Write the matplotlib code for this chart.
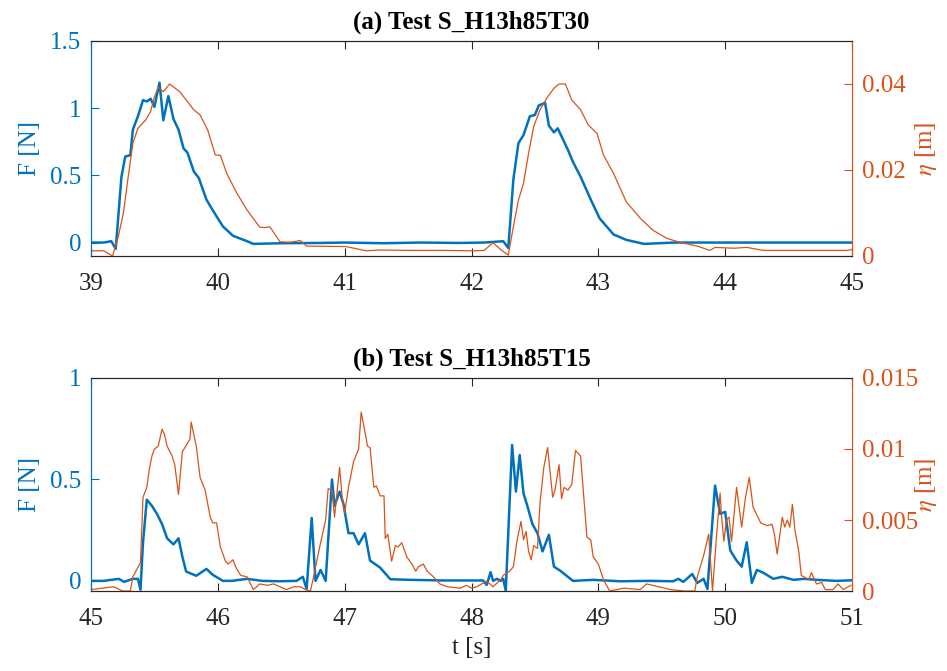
import matplotlib
matplotlib.use("Agg")
import matplotlib.pyplot as plt

plt.rcParams['font.family'] = ['Liberation Serif', 'DejaVu Serif']
plt.rcParams['mathtext.fontset'] = 'stix'
plt.rcParams['font.size'] = 18

BLUE = '#0072BD'
ORANGE = '#D95319'
GRAY = '#262626'

# ---- panel (a): force ----
ta_F = [39.0, 39.10, 39.16, 39.195, 39.24, 39.27, 39.31, 39.33, 39.37, 39.41,
        39.44, 39.47, 39.50, 39.54, 39.57, 39.61, 39.65, 39.69, 39.73, 39.76,
        39.81, 39.85, 39.91, 39.96, 40.04, 40.12, 40.23, 40.28, 40.5, 40.8,
        41.0, 41.3, 41.6, 41.9, 42.1, 42.25, 42.29, 42.33, 42.37, 42.41,
        42.46, 42.50, 42.53, 42.58, 42.61, 42.65, 42.68, 42.71, 42.76, 42.80,
        42.86, 42.94, 43.01, 43.12, 43.22, 43.36, 43.6, 43.9, 44.2, 44.5,
        44.8, 45.0]
F_a = [0.0, 0.0, 0.01, -0.047, 0.49, 0.64, 0.65, 0.84, 0.94, 1.06,
       1.05, 1.07, 1.01, 1.19, 0.91, 1.09, 0.92, 0.84, 0.70, 0.67,
       0.53, 0.48, 0.32, 0.24, 0.12, 0.05, 0.01, -0.01, -0.005, -0.003,
       0.0, -0.005, 0.0, -0.003, 0.0, 0.01, -0.04, 0.47, 0.74, 0.80,
       0.94, 0.95, 1.02, 1.04, 0.87, 0.82, 0.85, 0.79, 0.69, 0.60,
       0.49, 0.32, 0.18, 0.06, 0.02, -0.01, 0.0, 0.0, 0.0, 0.0,
       0.0, 0.0]

# ---- panel (a): surface elevation ----
ta_eta = [39.0, 39.10, 39.17, 39.215, 39.255, 39.29, 39.33, 39.37, 39.43, 39.47,
          39.50, 39.53, 39.57, 39.62, 39.70, 39.75, 39.81, 39.86, 39.92, 39.98,
          40.02, 40.07, 40.15, 40.23, 40.33, 40.37, 40.41, 40.49, 40.57, 40.65,
          40.70, 41.01, 41.17, 41.27, 41.54, 41.80, 42.02, 42.10, 42.17, 42.23,
          42.29, 42.33, 42.37, 42.41, 42.45, 42.49, 42.54, 42.60, 42.65, 42.69,
          42.74, 42.79, 42.86, 42.92, 42.99, 43.04, 43.12, 43.22, 43.33, 43.43,
          43.54, 43.64, 43.78, 43.88, 43.92, 44.07, 44.17, 44.30, 44.70, 44.96,
          45.0]
eta_a = [0.0012, 0.0012, 0.0, 0.0045, 0.0099, 0.0177, 0.0262, 0.0297, 0.0316, 0.0336,
         0.0370, 0.0392, 0.0382, 0.0400, 0.0382, 0.0363, 0.0340, 0.0328, 0.0293, 0.0235,
         0.0234, 0.0192, 0.0146, 0.0107, 0.0067, 0.0066, 0.0068, 0.0033, 0.0032, 0.0036,
         0.0023, 0.0022, 0.0012, 0.0014, 0.0013, 0.0013, 0.0012, 0.0013, 0.0031, 0.0015,
         0.0002, 0.0068, 0.0130, 0.0169, 0.0239, 0.0301, 0.0340, 0.0370, 0.0390, 0.0400,
         0.0400, 0.0363, 0.0340, 0.0305, 0.0285, 0.0235, 0.0192, 0.0126, 0.0088, 0.0060,
         0.0041, 0.0032, 0.0023, 0.0013, 0.0020, 0.0018, 0.0020, 0.0013, 0.0013, 0.0013,
         0.0015]

# ---- panel (b): force ----
tb_F = [45.0, 45.1, 45.22, 45.26, 45.33, 45.37, 45.39, 45.41, 45.44, 45.48,
        45.52, 45.56, 45.60, 45.65, 45.69, 45.72, 45.75, 45.83, 45.91, 45.96,
        46.04, 46.11, 46.23, 46.35, 46.49, 46.62, 46.67, 46.70, 46.74, 46.77,
        46.81, 46.85, 46.90, 46.92, 46.96, 46.99, 47.03, 47.07, 47.11, 47.16,
        47.20, 47.23, 47.28, 47.36, 47.52, 47.78, 48.09, 48.12, 48.15, 48.17,
        48.20, 48.23, 48.25, 48.27, 48.32, 48.35, 48.38, 48.41, 48.44, 48.48,
        48.52, 48.56, 48.61, 48.65, 48.70, 48.80, 48.96, 49.17, 49.40, 49.59,
        49.63, 49.67, 49.74, 49.78, 49.83, 49.86, 49.92, 49.96, 50.0, 50.04,
        50.09, 50.13, 50.17, 50.21, 50.25, 50.30, 50.38, 50.45, 50.54, 50.62,
        50.72, 50.88, 51.0]
F_b = [0.0, 0.0, 0.01, -0.005, 0.01, 0.01, -0.044, 0.19, 0.40, 0.37,
       0.33, 0.28, 0.21, 0.18, 0.21, 0.12, 0.046, 0.025, 0.059, 0.03,
       0.0, 0.0, 0.01, 0.0, -0.002, 0.0, 0.02, -0.04, 0.31, 0.0,
       0.054, 0.0, 0.50, 0.37, 0.44, 0.38, 0.235, 0.235, 0.18, 0.235,
       0.10, 0.087, 0.065, 0.008, 0.005, 0.002, 0.002, -0.02, 0.043, 0.0,
       0.01, 0.0, 0.01, -0.048, 0.67, 0.44, 0.62, 0.43, 0.37, 0.28,
       0.235, 0.145, 0.227, 0.07, 0.05, 0.0, 0.005, -0.002, 0.0, -0.002,
       0.01, -0.005, 0.034, -0.01, 0.01, -0.04, 0.47, 0.33, 0.34, 0.15,
       0.10, 0.07, 0.19, -0.01, 0.054, 0.04, 0.01, 0.02, 0.005, 0.01,
       0.005, 0.0, 0.003]

# ---- panel (b): surface elevation ----
tb_eta = [45.0, 45.18, 45.25, 45.31, 45.33, 45.36, 45.39, 45.41, 45.44, 45.46,
          45.48, 45.50, 45.53, 45.56, 45.58, 45.60, 45.64, 45.66, 45.69, 45.72,
          45.78, 45.79, 45.83, 45.86, 45.90, 45.94, 45.96, 45.99, 46.02, 46.06,
          46.08, 46.12, 46.14, 46.18, 46.23, 46.28, 46.33, 46.39, 46.44, 46.49,
          46.54, 46.60, 46.65, 46.69, 46.73, 46.75, 46.81, 46.85, 46.87, 46.90,
          46.92, 46.96, 46.98, 47.00, 47.03, 47.07, 47.11, 47.13, 47.16, 47.18,
          47.20, 47.23, 47.25, 47.28, 47.31, 47.32, 47.34, 47.37, 47.40, 47.42,
          47.45, 47.49, 47.53, 47.56, 47.58, 47.62, 47.65, 47.70, 47.75, 47.81,
          47.91, 47.96, 48.00, 48.04, 48.12, 48.17, 48.23, 48.25, 48.30, 48.33,
          48.36, 48.39, 48.41, 48.43, 48.45, 48.47, 48.49, 48.52, 48.54, 48.57,
          48.60, 48.64, 48.66, 48.69, 48.71, 48.73, 48.76, 48.79, 48.82, 48.86,
          48.88, 48.91, 48.94, 48.96, 49.00, 49.04, 49.09, 49.20, 49.33, 49.38,
          49.57, 49.68, 49.76, 49.78, 49.83, 49.87, 49.90, 49.93, 49.96, 49.97,
          49.99, 50.01, 50.03, 50.05, 50.09, 50.13, 50.16, 50.19, 50.22, 50.28,
          50.33, 50.37, 50.39, 50.41, 50.45, 50.47, 50.49, 50.51, 50.53, 50.55,
          50.58, 50.60, 50.66, 50.68, 50.72, 50.76, 50.79, 50.85, 50.89, 50.93,
          50.99]
eta_b = [0.0001, 0.0003, 0.0, 0.0, 0.0010, 0.0015, 0.0020, 0.0066, 0.0073, 0.0086,
         0.0095, 0.0100, 0.0102, 0.0114, 0.0110, 0.0102, 0.0095, 0.0089, 0.0068, 0.0098,
         0.0107, 0.0119, 0.0102, 0.0080, 0.0071, 0.0052, 0.0048, 0.0048, 0.0031, 0.0021,
         0.0019, 0.0022, 0.0017, 0.0011, 0.0010, 0.0001, 0.0005, 0.0004, 0.0005, 0.0003,
         0.0001, 0.0003, 0.0003, 0.0001, 0.0, 0.0008, 0.0034, 0.0050, 0.0072, 0.0071,
         0.0052, 0.0087, 0.0066, 0.0055, 0.0073, 0.0091, 0.0100, 0.0126, 0.0112, 0.0102,
         0.0101, 0.0073, 0.0074, 0.0067, 0.0067, 0.0037, 0.0040, 0.0021, 0.0032, 0.0031,
         0.0034, 0.0024, 0.0019, 0.0014, 0.0017, 0.0019, 0.0014, 0.0010, 0.0005, 0.0003,
         0.0002, 0.0004, 0.0002, 0.0003, 0.0007, 0.0003, 0.0008, 0.0011, 0.0014, 0.0017,
         0.0036, 0.0049, 0.0036, 0.0042, 0.0028, 0.0022, 0.0032, 0.0030, 0.0062, 0.0087,
         0.0101, 0.0066, 0.0072, 0.0089, 0.0065, 0.0073, 0.0071, 0.0075, 0.0099, 0.0095,
         0.0072, 0.0038, 0.0036, 0.0024, 0.0019, 0.0008, 0.0, 0.0002, 0.0001, 0.0005,
         0.0001, 0.0, 0.0, 0.0010, 0.0025, 0.0040, 0.0, 0.0037, 0.0069, 0.0054,
         0.0035, 0.0050, 0.0052, 0.0035, 0.0073, 0.0045, 0.0066, 0.0080, 0.0059, 0.0048,
         0.0046, 0.0047, 0.0039, 0.0026, 0.0052, 0.0045, 0.0050, 0.0045, 0.0061, 0.0043,
         0.0028, 0.0011, 0.0008, 0.0013, 0.0005, 0.0006, 0.0001, 0.0001, 0.0005, 0.0001,
         0.0004]

titles = ['(a) Test S_H13h85T30', '(b) Test S_H13h85T15']
xlims = [(39, 45), (45, 51)]
F_lims = [(-0.1, 1.5), (-0.05, 1.0)]
F_ticks = [[0, 0.5, 1, 1.5], [0, 0.5, 1]]
F_ticklabels = [['0', '0.5', '1', '1.5'], ['0', '0.5', '1']]
eta_lims = [(0, 0.05), (0, 0.015)]
eta_ticks = [[0, 0.02, 0.04], [0, 0.005, 0.01, 0.015]]
eta_ticklabels = [['0', '0.02', '0.04'], ['0', '0.005', '0.01', '0.015']]

fig = plt.figure(figsize=(9.47, 6.71), dpi=100)
ax_a = fig.add_axes([0.0961, 0.6185, 0.8036, 0.3204])
ax_b = fig.add_axes([0.0961, 0.1192, 0.8036, 0.3175])

series = [(ta_F, F_a, ta_eta, eta_a), (tb_F, F_b, tb_eta, eta_b)]
for i, ax in enumerate([ax_a, ax_b]):
    tF, F, te, eta = series[i]
    ax.plot(tF, F, color=BLUE, lw=1.8)
    ax.set_xlim(*xlims[i])
    ax.set_ylim(*F_lims[i])
    ax.set_yticks(F_ticks[i])
    ax.set_yticklabels(F_ticklabels[i])
    ax.set_ylabel('F [N]', color=BLUE)
    ax.yaxis.set_label_coords(-0.066, 0.5)
    ax.set_title(titles[i], fontweight='bold', fontsize=18, pad=9)

    ax2 = ax.twinx()
    ax2.plot(te, eta, color=ORANGE, lw=0.9)
    ax2.set_ylim(*eta_lims[i])
    ax2.set_yticks(eta_ticks[i])
    ax2.set_yticklabels(eta_ticklabels[i])
    ax2.set_ylabel(r'$\eta$ [m]', color=ORANGE)
    ax2.yaxis.set_label_coords(1.08, 0.5)

    for a in (ax, ax2):
        a.spines['top'].set_color(GRAY)
        a.spines['bottom'].set_color(GRAY)
        a.spines['left'].set_color(BLUE)
        a.spines['right'].set_color(ORANGE)
        for s in a.spines.values():
            s.set_linewidth(0.8)
    ax.tick_params(axis='x', direction='in', top=True, colors=GRAY,
                   length=6, pad=12, labelsize=18)
    ax.tick_params(axis='y', direction='in', colors=BLUE, length=6,
                   pad=7, labelsize=18)
    ax2.tick_params(axis='y', direction='in', colors=ORANGE, length=6,
                    pad=7, labelsize=18)

ax_b.set_xlabel('t [s]', color=GRAY, labelpad=5)

fig.savefig('out.png', dpi=100)
